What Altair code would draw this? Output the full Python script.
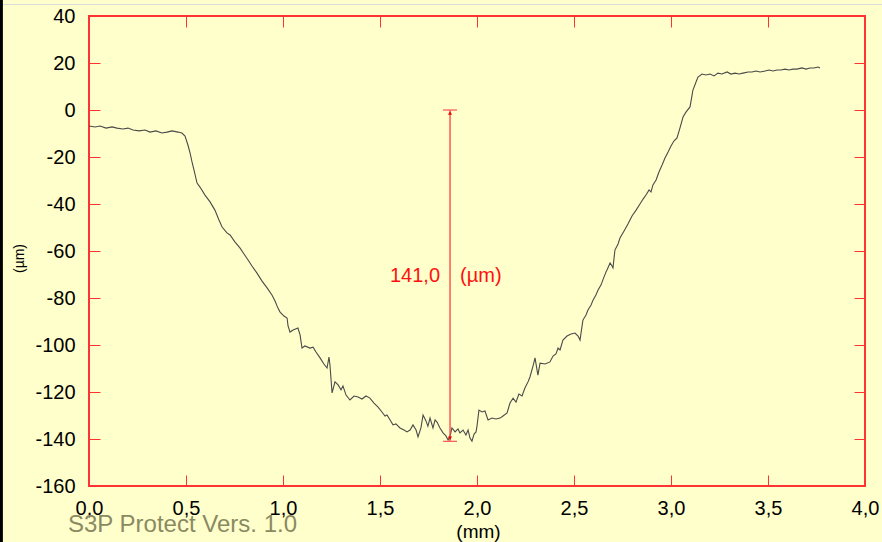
import altair as alt
import pandas as pd

# ---- profile data (mm, µm) ----
x_mm = [0.000, 0.031, 0.057, 0.088, 0.119, 0.144, 0.175, 0.201, 0.227, 0.258, 0.289, 0.314, 0.345, 0.376,
        0.402, 0.428, 0.459, 0.479, 0.495, 0.510, 0.521, 0.531, 0.541, 0.557, 0.572, 0.598, 0.624, 0.649,
        0.670, 0.686, 0.711, 0.727, 0.753, 0.778, 0.799, 0.820, 0.840, 0.866, 0.892, 0.918, 0.943, 0.959,
        0.974, 0.985, 1.005, 1.021, 1.026, 1.036, 1.052, 1.077, 1.088, 1.098, 1.113, 1.139, 1.155, 1.170,
        1.191, 1.211, 1.227, 1.237, 1.242, 1.253, 1.268, 1.284, 1.299, 1.309, 1.325, 1.345, 1.366, 1.387,
        1.407, 1.428, 1.448, 1.469, 1.490, 1.510, 1.526, 1.536, 1.552, 1.567, 1.582, 1.603, 1.624, 1.639,
        1.655, 1.670, 1.686, 1.696, 1.711, 1.722, 1.737, 1.747, 1.758, 1.773, 1.784, 1.794, 1.809, 1.825,
        1.840, 1.851, 1.861, 1.871, 1.887, 1.902, 1.912, 1.928, 1.943, 1.954, 1.964, 1.974, 1.985, 1.995,
        2.000, 2.010, 2.026, 2.041, 2.057, 2.077, 2.098, 2.119, 2.134, 2.155, 2.170, 2.186, 2.201, 2.216,
        2.232, 2.247, 2.263, 2.273, 2.289, 2.299, 2.314, 2.325, 2.351, 2.376, 2.392, 2.407, 2.418, 2.428,
        2.443, 2.464, 2.485, 2.505, 2.521, 2.531, 2.546, 2.562, 2.572, 2.588, 2.598, 2.613, 2.624, 2.639,
        2.649, 2.665, 2.670, 2.686, 2.696, 2.701, 2.711, 2.727, 2.737, 2.758, 2.778, 2.799, 2.820, 2.840,
        2.856, 2.871, 2.887, 2.897, 2.907, 2.923, 2.938, 2.954, 2.969, 2.985, 3.000, 3.015, 3.031, 3.046,
        3.062, 3.077, 3.098, 3.108, 3.113, 3.129, 3.139, 3.160, 3.180, 3.201, 3.222, 3.242, 3.263, 3.289,
        3.309, 3.330, 3.351, 3.371, 3.397, 3.418, 3.438, 3.459, 3.485, 3.505, 3.526, 3.546, 3.567, 3.588,
        3.608, 3.629, 3.649, 3.675, 3.696, 3.716, 3.737, 3.758, 3.768]
z_um = [-6.8, -7.2, -6.8, -7.7, -7.2, -7.7, -8.1, -7.7, -8.5, -8.9, -8.5, -9.4, -8.9, -9.8,
        -9.4, -8.9, -9.4, -9.8, -11.1, -14.9, -18.3, -22.1, -25.5, -31.1, -32.8, -36.2, -39.1, -42.6,
        -46.8, -49.8, -52.3, -53.2, -56.2, -58.7, -61.3, -63.8, -66.4, -69.4, -72.8, -75.7, -78.7, -81.3,
        -84.3, -86.0, -87.7, -88.5, -91.9, -94.5, -93.6, -92.8, -95.7, -101.3, -100.4, -101.3, -100.9, -103.0,
        -105.5, -108.1, -109.8, -105.1, -108.5, -120.4, -115.7, -117.0, -119.1, -117.4, -121.3, -123.4, -121.7, -122.1,
        -123.0, -121.7, -122.6, -124.7, -126.4, -128.5, -130.2, -129.8, -131.9, -134.0, -133.6, -135.3, -136.2, -137.0,
        -136.2, -134.0, -136.2, -139.1, -135.3, -129.8, -132.3, -134.5, -131.1, -135.3, -131.9, -132.8, -135.3, -137.4,
        -138.7, -140.4, -138.7, -135.3, -137.0, -135.7, -137.4, -136.2, -138.3, -136.2, -139.6, -140.9, -137.9, -137.0,
        -134.5, -127.7, -128.5, -128.1, -131.9, -131.1, -131.5, -131.1, -130.2, -128.9, -124.7, -122.6, -124.3, -120.9,
        -121.7, -118.3, -115.7, -113.6, -108.9, -105.5, -112.8, -107.7, -108.1, -107.2, -104.7, -103.8, -101.3, -102.1,
        -97.9, -96.2, -95.3, -94.9, -96.2, -97.9, -89.4, -87.2, -85.1, -83.0, -80.9, -78.7, -76.6, -74.5,
        -72.3, -68.9, -68.1, -65.1, -66.4, -67.2, -59.6, -57.0, -54.5, -51.5, -48.5, -45.1, -42.6, -40.0,
        -37.9, -36.2, -34.0, -34.9, -31.9, -29.8, -26.4, -23.4, -20.4, -17.9, -15.3, -13.2, -11.9, -7.7,
        -3.0, -0.9, 1.3, 6.0, 8.5, 11.9, 14.0, 15.3, 14.9, 15.3, 14.5, 15.7, 15.3, 16.2,
        15.3, 15.7, 15.3, 15.7, 16.2, 16.2, 16.6, 16.2, 16.6, 17.0, 16.6, 17.0, 17.0, 17.4,
        17.0, 17.4, 17.4, 17.9, 17.4, 17.9, 17.9, 18.3, 17.9]

# ---- depth measurement annotation ----
depth_x = [1.861]
depth_top = [0.0]
depth_bottom = [-141.0]
depth_value = ["141,0"]
depth_unit = ["(µm)"]

# ---- axes ----
x_ticks = [0.0, 0.5, 1.0, 1.5, 2.0, 2.5, 3.0, 3.5, 4.0]
y_ticks = [-160, -140, -120, -100, -80, -60, -40, -20, 0, 20, 40]
x_title = "(mm)"
y_title = "(µm)"
watermark = ["S3P Protect Vers. 1.0"]

FONT = "Liberation Sans"
RED = "#ff3333"
BG = "#ffffcc"

prof = pd.DataFrame({"x": x_mm, "z": z_um})
ann = pd.DataFrame({"x": depth_x, "top": depth_top, "bottom": depth_bottom,
                    "val": depth_value, "unit": depth_unit})
ann["mid"] = (ann["top"] + ann["bottom"]) / 2

xs = alt.Scale(domain=[0, 4], nice=False, zero=False)
ys = alt.Scale(domain=[-160, 40], nice=False, zero=False)

label_expr_x = "replace(format(datum.value, '.1f'), '.', ',')"
label_expr_y = "'' + datum.value"

common_axis = dict(domain=False, grid=False, tickColor=RED, tickWidth=1, tickSize=11,
                   offset=-11, labelFont=FONT, labelFontSize=20, labelColor="black",
                   titleFont=FONT, titleColor="black", titleFontWeight="normal",
                   labelOverlap=False, labelFlush=False)

ax_bottom = alt.Axis(orient="bottom", values=x_ticks, labelExpr=label_expr_x, labelPadding=12,
                     title=x_title, titleFontSize=19, titleX=389, titleY=56,
                     titleBaseline="middle", titleAlign="center", **common_axis)
ax_left = alt.Axis(orient="left", values=y_ticks, labelExpr=label_expr_y, labelPadding=14,
                   title=y_title, titleFontSize=14, titleX=-81, titleY=242, titleAngle=270,
                   titleAlign="center", titleBaseline="middle", **common_axis)
ax_top = alt.Axis(orient="top", values=x_ticks, labels=False, title=None, **common_axis)
ax_right = alt.Axis(orient="right", values=y_ticks, labels=False, title=None, **common_axis)

line = alt.Chart(prof).mark_line(color="#4a4a4a", strokeWidth=1.1).encode(
    x=alt.X("x:Q", scale=xs, axis=ax_bottom),
    y=alt.Y("z:Q", scale=ys, axis=ax_left),
)
ghost = alt.Chart(prof).mark_line(opacity=0).encode(
    x=alt.X("x:Q", scale=xs, axis=ax_top),
    y=alt.Y("z:Q", scale=ys, axis=ax_right),
)

vline = alt.Chart(ann).mark_rule(color="#ff4040", strokeWidth=1.3).encode(
    x=alt.X("x:Q", scale=xs, axis=None),
    y=alt.Y("top:Q", scale=ys, axis=None),
    y2="bottom:Q",
)
cap_top = alt.Chart(ann).mark_rule(color="#ff6060", strokeWidth=1.3, xOffset=-7, x2Offset=7).encode(
    x=alt.X("x:Q", scale=xs, axis=None), x2="x:Q",
    y=alt.Y("top:Q", scale=ys, axis=None),
)
cap_bot = alt.Chart(ann).mark_rule(color="#ff6060", strokeWidth=1.3, xOffset=-7, x2Offset=7).encode(
    x=alt.X("x:Q", scale=xs, axis=None), x2="x:Q",
    y=alt.Y("bottom:Q", scale=ys, axis=None),
)
arr_top = alt.Chart(ann).mark_point(shape="triangle-up", filled=True, color="#ee0000",
                                    size=16, opacity=1, yOffset=3).encode(
    x=alt.X("x:Q", scale=xs, axis=None),
    y=alt.Y("top:Q", scale=ys, axis=None),
)
arr_bot = alt.Chart(ann).mark_point(shape="triangle-down", filled=True, color="#ee0000",
                                    size=16, opacity=1, yOffset=-3).encode(
    x=alt.X("x:Q", scale=xs, axis=None),
    y=alt.Y("bottom:Q", scale=ys, axis=None),
)
txt_val = alt.Chart(ann).mark_text(color="#ff1010", font=FONT, fontSize=20, align="right",
                                   baseline="middle", dx=-10).encode(
    x=alt.X("x:Q", scale=xs, axis=None),
    y=alt.Y("mid:Q", scale=ys, axis=None),
    text="val:N",
)
txt_unit = alt.Chart(ann).mark_text(color="#ff1010", font=FONT, fontSize=20, align="left",
                                    baseline="middle", dx=10).encode(
    x=alt.X("x:Q", scale=xs, axis=None),
    y=alt.Y("mid:Q", scale=ys, axis=None),
    text="unit:N",
)
wm = alt.Chart(pd.DataFrame({"t": watermark})).mark_text(
    color="#8a8a62", font=FONT, fontSize=24, align="left", baseline="alphabetic"
).encode(x=alt.value(-21), y=alt.value(516), text="t:N")

edge_left = alt.Chart(pd.DataFrame({"t": watermark})).mark_rule(color="black", strokeWidth=3).encode(
    x=alt.value(-87.6), y=alt.value(-16), y2=alt.value(526))
edge_top = alt.Chart(pd.DataFrame({"t": watermark})).mark_rule(color="#dcdcdc", strokeWidth=1).encode(
    x=alt.value(-86), x2=alt.value(793), y=alt.value(-11.5))

chart = alt.layer(
    ghost, line, vline, cap_top, cap_bot, arr_top, arr_bot, txt_val, txt_unit, wm, edge_left, edge_top
).resolve_axis(x="independent", y="independent").properties(
    width=776, height=470,
    autosize=alt.AutoSizeParams(type="none"),
    padding={"left": 89, "top": 16, "right": 17, "bottom": 56},
    background=BG,
).configure_view(stroke=RED, strokeWidth=2, fill=BG)

chart.save("out.html", embed_options={"renderer": "svg", "actions": False})
